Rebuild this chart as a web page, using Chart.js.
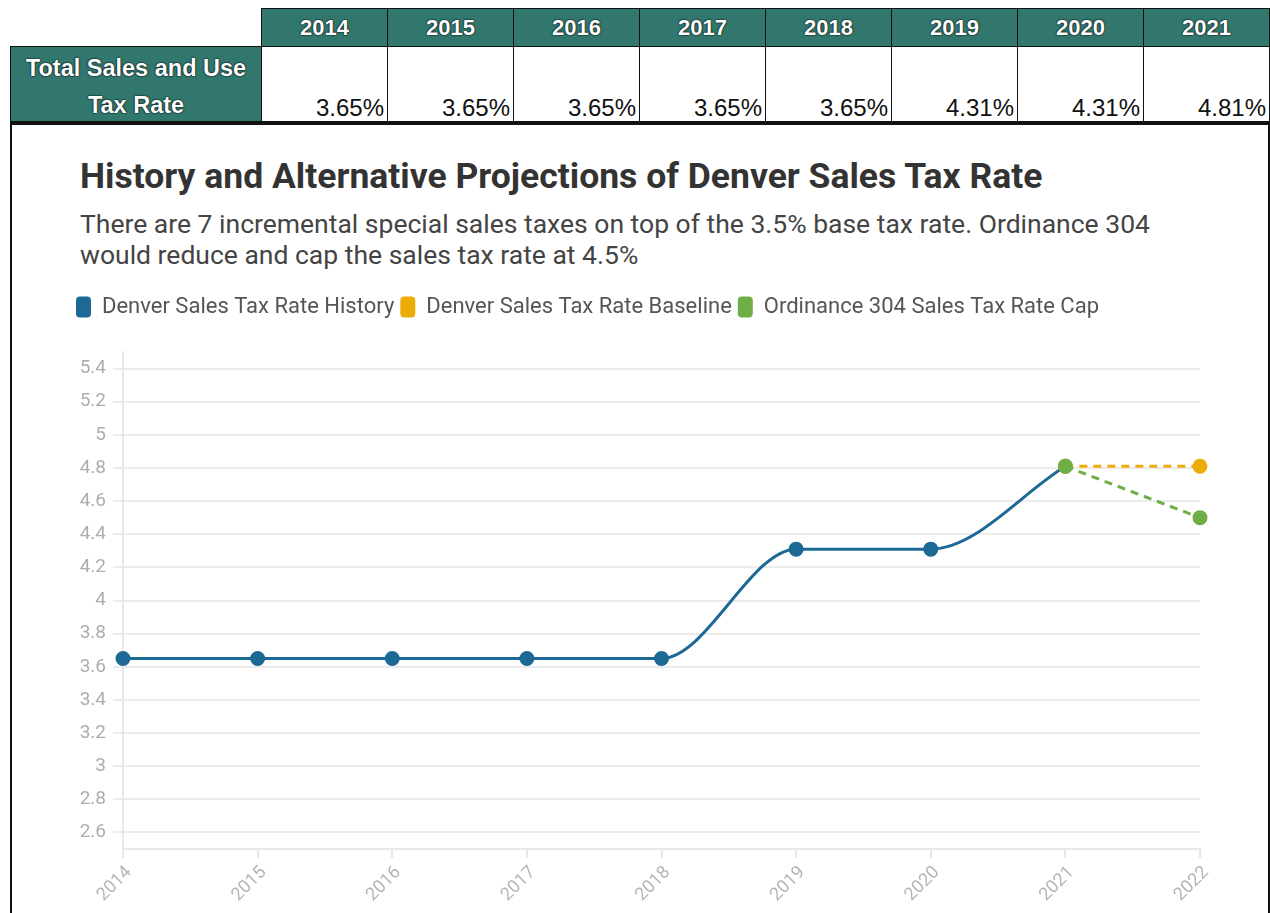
<!DOCTYPE html>
<html><head><meta charset="utf-8">
<script src="https://cdn.jsdelivr.net/npm/chart.js@4/dist/chart.umd.min.js"></script>
<style>
html,body{margin:0;padding:0;background:#fff;width:1270px;height:913px;overflow:hidden;}
#tbl{position:absolute;left:10px;top:8px;border-collapse:collapse;font-family:"Liberation Sans",Arial,sans-serif;}
#tbl td{border:1.5px solid #111;padding:0;}
#tbl .hd{background:#31776e;color:#fff;font-weight:bold;font-size:22px;text-align:center;height:37px;width:125px;text-shadow:0 0 2px #000,0 0 1px #000;}
#tbl .lab{background:#31776e;color:#fff;font-weight:bold;font-size:23.5px;text-align:center;width:251px;line-height:37px;padding-top:3px;box-sizing:border-box;text-shadow:0 0 2px #000,0 0 1px #000;}
#tbl .val{font-size:24px;text-align:right;vertical-align:bottom;height:72px;padding-right:3px;padding-bottom:2px;color:#111;}
#tbl .empty{border:none;}
#box{position:absolute;left:10px;top:121px;width:1256px;height:800px;border-left:2px solid #111;border-right:2px solid #111;border-top:3px solid #111;}
#title{position:absolute;left:80px;top:155px;font-family:Roboto,sans-serif;font-weight:bold;font-size:35.5px;line-height:42px;color:#333;white-space:nowrap;}
#sub{position:absolute;left:80px;top:208px;font-family:Roboto,sans-serif;font-size:26.5px;line-height:31px;color:#444;width:1120px;}
#wrap{position:absolute;left:70px;top:290px;width:1196px;height:623px;}
</style></head>
<body>
<table id="tbl"><tbody id="tb"></tbody></table>
<div id="box"></div>
<div id="title">History and Alternative Projections of Denver Sales Tax Rate</div>
<div id="sub">There are 7 incremental special sales taxes on top of the 3.5% base tax rate. Ordinance 304 would reduce and cap the sales tax rate at 4.5%</div>
<div id="wrap"><canvas id="c"></canvas></div>
<script>
const tableYears = ['2014','2015','2016','2017','2018','2019','2020','2021'];
const tableRates = ['3.65%','3.65%','3.65%','3.65%','3.65%','4.31%','4.31%','4.81%'];
const rowLabel = ['Total Sales and Use','Tax Rate'];

const years = ['2014','2015','2016','2017','2018','2019','2020','2021','2022'];
const history = [3.65, 3.65, 3.65, 3.65, 3.65, 4.31, 4.31, 4.81, null];
const baseline = [null, null, null, null, null, null, null, 4.81, 4.81];
const cap = [null, null, null, null, null, null, null, 4.81, 4.5];
const yTicks = [2.6, 2.8, 3, 3.2, 3.4, 3.6, 3.8, 4, 4.2, 4.4, 4.6, 4.8, 5, 5.2, 5.4];
const seriesNames = ['Denver Sales Tax Rate History','Denver Sales Tax Rate Baseline','Ordinance 304 Sales Tax Rate Cap'];
const colors = ['#1d6996','#edad08','#6fad46'];

// table
const tb = document.getElementById('tb');
let r1 = '<tr><td class="empty"></td>' + tableYears.map(y=>'<td class="hd">'+y+'</td>').join('') + '</tr>';
let r2 = '<tr><td class="lab">'+rowLabel.join('<br>')+'</td>' + tableRates.map(v=>'<td class="val">'+v+'</td>').join('') + '</tr>';
tb.innerHTML = r1 + r2;

const legendGap = {
  id: 'legendGap',
  beforeInit(chart) {
    const fit = chart.legend.fit;
    chart.legend.fit = function () { fit.call(this); this.height += 24; };
  }
};

Chart.defaults.font.family = 'Roboto, sans-serif';
new Chart(document.getElementById('c'), {
  type: 'line',
  data: {
    labels: years,
    datasets: [
      {label: seriesNames[0], data: history, borderColor: colors[0], backgroundColor: colors[0], borderWidth: 3, pointRadius: 6, pointHoverRadius: 6, cubicInterpolationMode: 'monotone', order: 2},
      {label: seriesNames[1], data: baseline, borderColor: colors[1], backgroundColor: colors[1], borderWidth: 3, borderDash: [8, 6], pointRadius: 6, order: 1},
      {label: seriesNames[2], data: cap, borderColor: colors[2], backgroundColor: colors[2], borderWidth: 3, borderDash: [8, 6], pointRadius: 6, order: 0}
    ]
  },
  plugins: [legendGap],
  options: {
    responsive: true,
    maintainAspectRatio: false,
    animation: false,
    layout: {padding: {top: 0, right: 66, bottom: 0, left: 0}},
    plugins: {
      legend: {
        align: 'start',
        labels: {
          boxWidth: 15, boxHeight: 21, useBorderRadius: true, borderRadius: 4,
          padding: 6, color: '#555', font: {size: 22},
          sort: (a, b) => a.datasetIndex - b.datasetIndex,
          generateLabels: (chart) => {
            const items = Chart.defaults.plugins.legend.labels.generateLabels(chart);
            items.forEach(it => { it.lineDash = []; it.lineWidth = 0; it.strokeStyle = it.fillStyle; });
            return items;
          }
        }
      },
      tooltip: {enabled: false}
    },
    scales: {
      x: {
        offset: false,
        grid: {drawOnChartArea: false, color: '#e8e8e8', lineWidth: 2, tickLength: 9},
        border: {color: '#e8e8e8', width: 2},
        ticks: {color: '#b5b5b5', font: {size: 18}, minRotation: 45, maxRotation: 45, padding: 4, labelOffset: 6},
        afterFit: s => { s.height = 64; }
      },
      y: {
        min: 2.5, max: 5.5,
        afterBuildTicks: s => { s.ticks = yTicks.map(v => ({value: v})); },
        grid: {color: '#ececec', lineWidth: 2, tickLength: 10},
        border: {color: '#e8e8e8', width: 2},
        ticks: {color: '#adadad', font: {size: 19}, padding: 7, callback: v => String(v)},
        afterFit: s => { s.width = 53; }
      }
    }
  }
});
</script>
</body></html>
